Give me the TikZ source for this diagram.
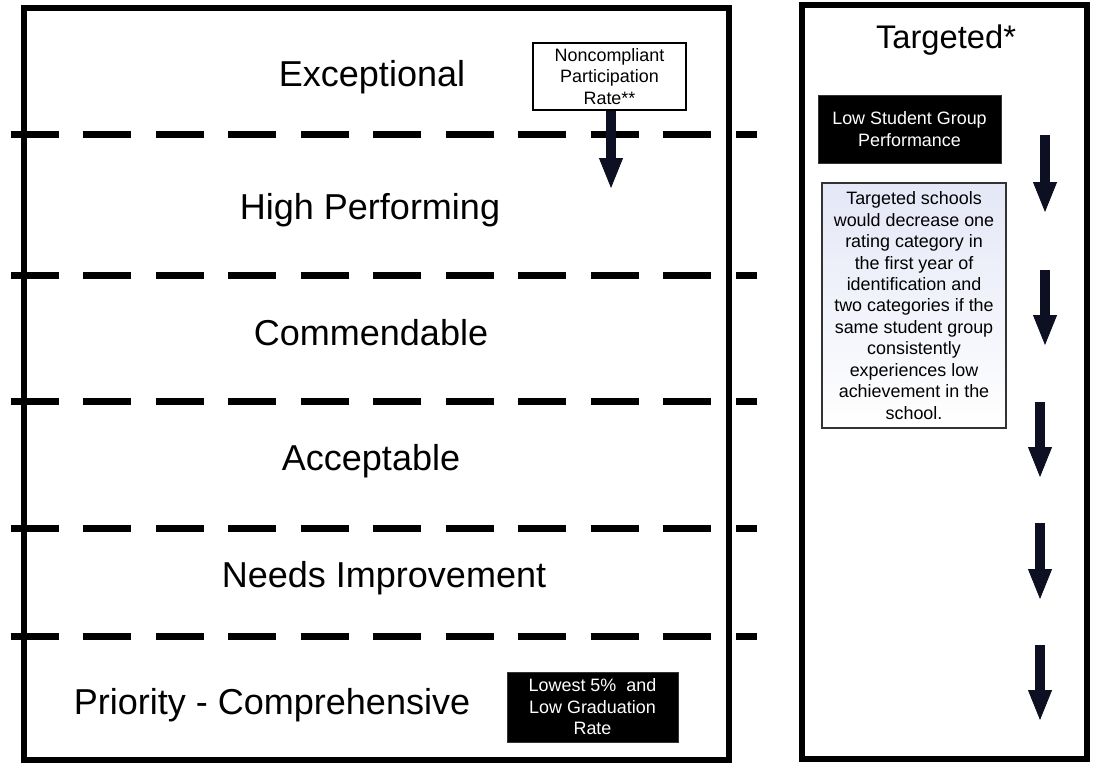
\documentclass[tikz,border=0pt]{standalone}
\usepackage{fontspec}
\setmainfont{Liberation Sans}
\usetikzlibrary{arrows.meta}

\definecolor{arrowink}{RGB}{12,16,34}
\definecolor{notetop}{RGB}{228,231,246}

\begin{document}
\begin{tikzpicture}
	[x=0.02cm,y=-0.02cm,
	frame/.style={draw=black, line width=0.12cm},
	divider/.style={draw=black, line width=0.14cm, dash pattern=on 0.96cm off 0.49cm},
	level/.style={font=\fontsize{20.5}{24}\selectfont},
	smalltext/.style={font=\fontsize{10.2}{12.2}\selectfont, align=center, inner sep=0pt},
	whitebox/.style={smalltext, draw=black, line width=0.8pt, fill=white},
	blackbox/.style={smalltext, draw=black!80, fill=black, text=white},
	notebox/.style={smalltext, draw=black!80, line width=0.8pt, top color=notetop, bottom color=white},
	downarrow/.style={draw=arrowink, line width=0.19cm, -{Triangle[length=0.6cm,width=0.48cm,line width=0.5pt]}}];

	\useasboundingbox (0,0) rectangle (1094,763);

	%Frames
	\draw[frame] (24,8) rectangle (729,760);
	\draw[frame] (802,5) rectangle (1087,759);

	%Dividers
	\foreach \y in {135,275.5,401.5,528.5,636.5}
		\draw[divider] (11,\y) -- (757,\y);

	%Levels
	\node[level] (exceptional) at (372,77) {Exceptional};
	\node[level] (high) at (370,210) {High Performing};
	\node[level] (commendable) at (371,333) {Commendable};
	\node[level] (acceptable) at (371,461) {Acceptable};
	\node[level] (needs) at (384,578) {Needs Improvement};
	\node[level] (priority) at (272,705) {Priority - Comprehensive};
	\node[font=\fontsize{18.6}{22}\selectfont] (targeted) at (946,40) {Targeted*};

	%Boxes
	\node[whitebox, minimum width=153*0.02cm, minimum height=67*0.02cm] (noncomp) at (609.5,76.5)
		{Noncompliant\\Participation\\Rate**};
	\node[blackbox, minimum width=183*0.02cm, minimum height=68*0.02cm] (lowgroup) at (909.5,129)
		{Low Student Group\\Performance};
	\node[notebox, minimum width=184*0.02cm, minimum height=245*0.02cm] (note) at (914,305.5)
		{Targeted schools\\would decrease one\\rating category in\\the first year of\\identification and\\two categories if the\\same student group\\consistently\\experiences low\\achievement in the\\school.};
	\node[blackbox, minimum width=171*0.02cm, minimum height=70*0.02cm] (lowest) at (592.5,707)
		{Lowest 5\%\ \ and\\Low Graduation\\Rate};

	%Arrows
	\coordinate (noncompend) at (611,188);
	\draw[downarrow] (noncomp.south -| noncompend) -- (noncompend);
	\foreach \x/\a/\b [count=\i] in {1045/135/212, 1045/270/345, 1040/402/477, 1040/523/599, 1040/645/720}{
		\coordinate (drop\i a) at (\x,\a);
		\coordinate (drop\i b) at (\x,\b);
		\draw[downarrow] (drop\i a) -- (drop\i b);
	}
\end{tikzpicture}
\end{document}
